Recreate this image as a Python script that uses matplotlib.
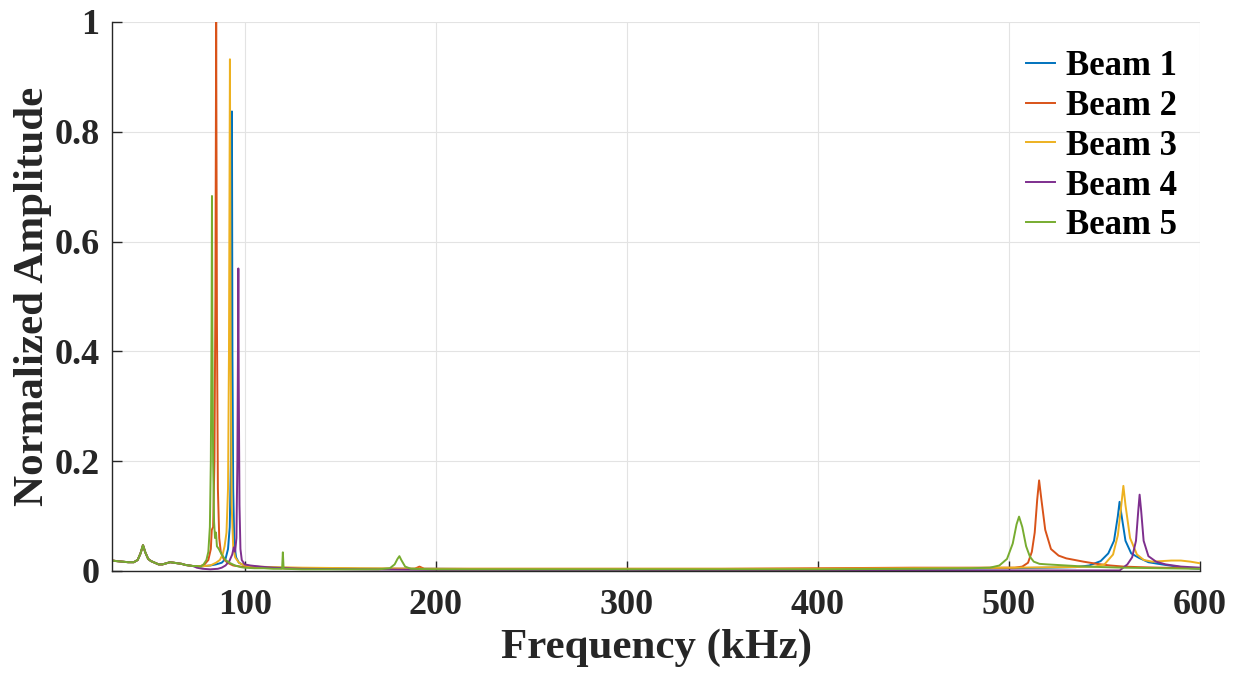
import numpy as np
import matplotlib
matplotlib.use("Agg")
import matplotlib.pyplot as plt
from matplotlib.ticker import FormatStrFormatter

# shared low-frequency band (all beams sit on top of each other here)
low_f = [30.6, 33, 36, 39, 42, 44, 45.5, 46.8, 48, 49.5, 51, 53, 55, 57, 59, 61, 63, 65, 67, 69, 71, 73]
low_a = [0.019, 0.018, 0.017, 0.016, 0.016, 0.020, 0.032, 0.047, 0.034, 0.022, 0.018, 0.015,
         0.012, 0.012, 0.014, 0.016, 0.015, 0.014, 0.013, 0.011, 0.010, 0.009]

# Beam 1
b1_f = [75, 77, 79, 82, 85, 88, 90, 91.3, 92.2, 92.8, 93.1, 93.35, 93.6, 94, 94.6, 95.5, 97, 100,
        105, 110, 118, 130, 160, 200, 250, 300, 350, 400, 450, 500, 520, 535, 542, 548, 552, 555,
        557, 557.9, 559, 561, 564, 568, 573, 580, 588, 595, 600]
b1_a = [0.009, 0.008, 0.009, 0.010, 0.012, 0.015, 0.022, 0.040, 0.080, 0.20, 0.45, 0.837, 0.40,
        0.15, 0.05, 0.025, 0.015, 0.010, 0.008, 0.007, 0.006, 0.005, 0.004, 0.004, 0.003, 0.003,
        0.003, 0.003, 0.004, 0.005, 0.006, 0.007, 0.010, 0.018, 0.032, 0.055, 0.10, 0.126, 0.10,
        0.055, 0.032, 0.024, 0.016, 0.012, 0.008, 0.005, 0.004]

# Beam 2
b2_f = [75, 77, 79, 81, 82.3, 82.8, 83.5, 84.2, 84.7, 85.1, 85.5, 86, 86.7, 87.5, 89, 91, 94, 98,
        102, 110, 120, 140, 160, 180, 189, 191.5, 194, 220, 260, 300, 350, 400, 450, 480, 495, 503,
        507, 510, 512, 513.5, 514.8, 515.8, 517, 519, 522, 526, 530, 539, 546, 553, 560, 568, 580, 600]
b2_a = [0.009, 0.009, 0.012, 0.020, 0.040, 0.075, 0.080, 0.20, 0.50, 1.0, 0.45, 0.15, 0.06, 0.035,
        0.022, 0.015, 0.010, 0.008, 0.007, 0.006, 0.005, 0.005, 0.004, 0.004, 0.004, 0.008, 0.004,
        0.004, 0.004, 0.004, 0.004, 0.005, 0.006, 0.006, 0.006, 0.006, 0.008, 0.015, 0.035, 0.07,
        0.13, 0.165, 0.13, 0.075, 0.040, 0.028, 0.023, 0.017, 0.013, 0.010, 0.008, 0.007, 0.006, 0.005]

# Beam 3
b3_f = [75, 77, 79, 82, 85, 87, 88.5, 89.5, 90.5, 91.3, 91.8, 92.3, 92.7, 93.2, 94, 95, 97, 100,
        105, 115, 130, 160, 200, 250, 300, 350, 400, 450, 500, 530, 545, 550, 554.5, 557, 558.5,
        559.9, 561, 563.4, 567, 570.6, 575, 580, 585, 590, 595, 600]
b3_a = [0.009, 0.008, 0.009, 0.010, 0.015, 0.020, 0.030, 0.045, 0.070, 0.15, 0.40, 0.932, 0.40,
        0.12, 0.045, 0.025, 0.015, 0.010, 0.008, 0.007, 0.006, 0.005, 0.004, 0.004, 0.004, 0.004,
        0.004, 0.005, 0.006, 0.007, 0.008, 0.012, 0.030, 0.065, 0.11, 0.155, 0.12, 0.06, 0.03,
        0.02, 0.017, 0.018, 0.019, 0.019, 0.017, 0.014]

# Beam 4
b4_f = [75, 78, 82, 86, 88, 90, 92, 93.5, 94.3, 95, 95.7, 96.2, 96.5, 96.7, 96.9, 97.3, 97.8,
        98.5, 100, 103, 108, 115, 130, 160, 200, 250, 300, 350, 400, 450, 500, 540, 558, 562,
        564.5, 566.5, 567.7, 568.4, 569.2, 570.5, 573, 577, 582, 590, 600]
b4_a = [0.006, 0.004, 0.003, 0.004, 0.006, 0.010, 0.018, 0.030, 0.043, 0.035, 0.06, 0.20, 0.40,
        0.551, 0.35, 0.12, 0.04, 0.02, 0.012, 0.010, 0.008, 0.006, 0.004, 0.003, 0.002, 0.002,
        0.002, 0.001, 0.001, 0.001, 0.001, 0.001, 0.001, 0.012, 0.025, 0.055, 0.11, 0.139, 0.11,
        0.055, 0.027, 0.017, 0.012, 0.008, 0.006]

# Beam 5
b5_f = [75, 77, 78.5, 80, 81, 81.8, 82.3, 82.7, 82.9, 83.1, 83.5, 84, 84.5, 85, 85.5, 86.5, 88,
        90, 92, 95, 98, 100, 105, 110, 115, 119.6, 120, 120.4, 130, 150, 170, 176, 178.5, 180, 181,
        182, 184, 187, 200, 250, 300, 350, 400, 450, 480, 490, 495, 499, 502, 504, 505.3, 507, 509,
        511, 513, 516, 520, 530, 540, 560, 580, 600]
b5_a = [0.009, 0.008, 0.012, 0.020, 0.035, 0.08, 0.20, 0.45, 0.683, 0.45, 0.20, 0.09, 0.06, 0.07,
        0.045, 0.040, 0.030, 0.020, 0.015, 0.010, 0.007, 0.006, 0.005, 0.005, 0.004, 0.004, 0.034,
        0.004, 0.003, 0.003, 0.003, 0.005, 0.012, 0.022, 0.027, 0.020, 0.008, 0.004, 0.003, 0.003,
        0.003, 0.003, 0.003, 0.004, 0.005, 0.006, 0.010, 0.022, 0.050, 0.085, 0.099, 0.080, 0.045,
        0.026, 0.017, 0.013, 0.012, 0.010, 0.008, 0.006, 0.005, 0.004]

labels = ["Beam 1", "Beam 2", "Beam 3", "Beam 4", "Beam 5"]
colors = ["#0072BD", "#D95319", "#EDB120", "#7E2F8E", "#77AC30"]
series = [(b1_f, b1_a), (b2_f, b2_a), (b3_f, b3_a), (b4_f, b4_a), (b5_f, b5_a)]

plt.rcParams['font.family'] = ['Liberation Serif', 'DejaVu Serif']
plt.rcParams['font.weight'] = 'bold'

fig = plt.figure(figsize=(12.38, 6.77), dpi=100)
ax = fig.add_axes([0.0905, 0.1566, 0.8788, 0.811])

for (f, a), c, lab in zip(series, colors, labels):
    ax.plot(low_f + f, low_a + a, color=c, lw=1.4, label=lab)

ax.set_xlim(30.6, 600)
ax.set_ylim(0, 1)
ax.set_xticks([100, 200, 300, 400, 500, 600])
ax.set_yticks([0, 0.2, 0.4, 0.6, 0.8, 1])
ax.yaxis.set_major_formatter(FormatStrFormatter('%g'))
ax.grid(True, color='#e3e3e3', lw=0.8)
ax.set_axisbelow(True)
for s in ['top', 'right']:
    ax.spines[s].set_visible(False)
for s in ['left', 'bottom']:
    ax.spines[s].set_color('#262626')
    ax.spines[s].set_linewidth(1.0)
ax.tick_params(direction='in', length=7, width=1, colors='#262626', labelcolor='#262626',
               labelsize=26)
ax.tick_params(axis='x', pad=13)
ax.tick_params(axis='y', pad=9)

ax.set_xlabel("Frequency (kHz)", fontsize=31, fontweight='bold', labelpad=5, color='#262626')
ax.set_ylabel("Normalized Amplitude", fontsize=31, fontweight='bold', labelpad=2, color='#262626')

ax.legend(loc='upper right', bbox_to_anchor=(1.004, 1.0), frameon=False, fontsize=25,
          handlelength=0.85, handletextpad=0.3, labelspacing=0.2, borderaxespad=0.4)

fig.savefig("out.png", dpi=100)
